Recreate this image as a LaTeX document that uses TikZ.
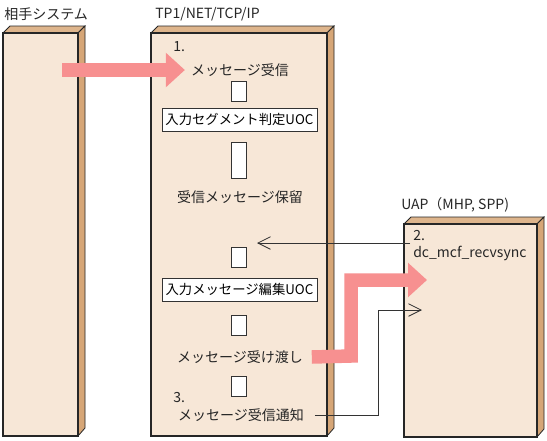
\documentclass[tikz,border=0pt]{standalone}
\usepackage{fontspec}
\setmainfont{Noto Sans CJK JP}
\usetikzlibrary{arrows.meta}
\definecolor{front}{HTML}{F7E7D7}
\definecolor{side}{HTML}{D6A677}
\definecolor{topc}{HTML}{DEB58C}
\definecolor{pinkc}{HTML}{F79090}
\tikzset{
  txt/.style={font=\fontsize{10.5}{12}\selectfont, inner sep=0pt, text=black!85},
  uoc/.style={draw=black!80, fill=white, line width=0.7pt, font=\fontsize{10}{12}\selectfont, minimum width=155*0.75pt, minimum height=23*0.75pt, inner sep=0pt},
  smallbox/.style={draw=black!80, fill=white, line width=0.7pt, minimum width=15*0.75pt, minimum height=20*0.75pt, inner sep=0pt},
  tallbox/.style={smallbox, minimum height=36*0.75pt},
  pinkarrow/.style={draw=pinkc, line width=13.5*0.75pt, line join=miter, -{Triangle[length=14.25pt,width=25pt]}},
  thinarrow/.style={draw=black!80, line width=0.6pt, -{Straight Barb[length=9.5pt,width=9.5pt,line width=0.6pt]}},
}
\newcommand{\pillar}[4]{%
  \fill[topc,draw=black!85,line width=0.6pt] (#1,#2) -- (#1+7,#2-7) -- (#3+7,#2-7) -- (#3,#2) -- cycle;
  \fill[side,draw=black!85,line width=0.6pt] (#3,#2) -- (#3+7,#2-7) -- (#3+7,#4-8) -- (#3,#4) -- cycle;
  \fill[front,draw=black!85,line width=0.8pt] (#1,#2) rectangle (#3,#4);
}
\begin{document}
\begin{tikzpicture}[x=0.75pt,y=-0.75pt]
\useasboundingbox (0,0) rectangle (547,440);
\fill[white] (0,0) rectangle (547,440);
% pillars
\pillar{3}{33}{78}{436}
\pillar{151}{33}{327}{436}
\pillar{404}{224}{537}{437}
% titles
\node[txt, anchor=west] (tpartner) at (4,14) {相手システム};
\node[txt, anchor=west] (ttp1) at (155,14) {TP1/NET/TCP/IP};
\node[txt, anchor=west] (tuap) at (401,205) {UAP（MHP, SPP)};
% middle column
\node[txt, anchor=west] (n1) at (173,47) {1.};
\node[txt] (recv) at (240,70) {メッセージ受信};
\node[smallbox] (b1) at (239,91.5) {};
\node[uoc] (uoc1) at (239.5,119.5) {入力セグメント判定UOC};
\node[tallbox] (b2) at (239,160) {};
\node[txt] (hold) at (240,197) {受信メッセージ保留};
\node[smallbox] (b3) at (239,257) {};
\node[uoc] (uoc2) at (239.5,289.5) {入力メッセージ編集UOC};
\node[smallbox] (b4) at (239,325) {};
\node[txt] (pass) at (240,357) {メッセージ受け渡し};
\node[smallbox] (b5) at (239,386) {};
\node[txt, anchor=west] (n3) at (173,398) {3.};
\node[txt] (notify) at (241,415) {メッセージ受信通知};
% UAP
\node[txt, anchor=west] (n2) at (413,236) {2.};
\node[txt, anchor=west] (recvsync) at (413,253) {dc\_mcf\_recvsync};
% connectors
\coordinate (s1) at (62,70);
\draw[pinkarrow] (s1) -- ([xshift=-4.5pt]recv.west);
\coordinate (bend1) at (351,356);
\coordinate (tip2) at (427,280);
\draw[pinkarrow] ([xshift=6.5pt]pass.east) -- (bend1) |- (tip2);
\coordinate (s2) at (410,243);
\coordinate (e2) at (257,243);
\draw[thinarrow] (s2) -- (e2);
\coordinate (bend2) at (378,415);
\coordinate (tip3) at (422,310);
\draw[thinarrow] ([xshift=8pt]notify.east) -- (bend2) |- (tip3);
\end{tikzpicture}
\end{document}
